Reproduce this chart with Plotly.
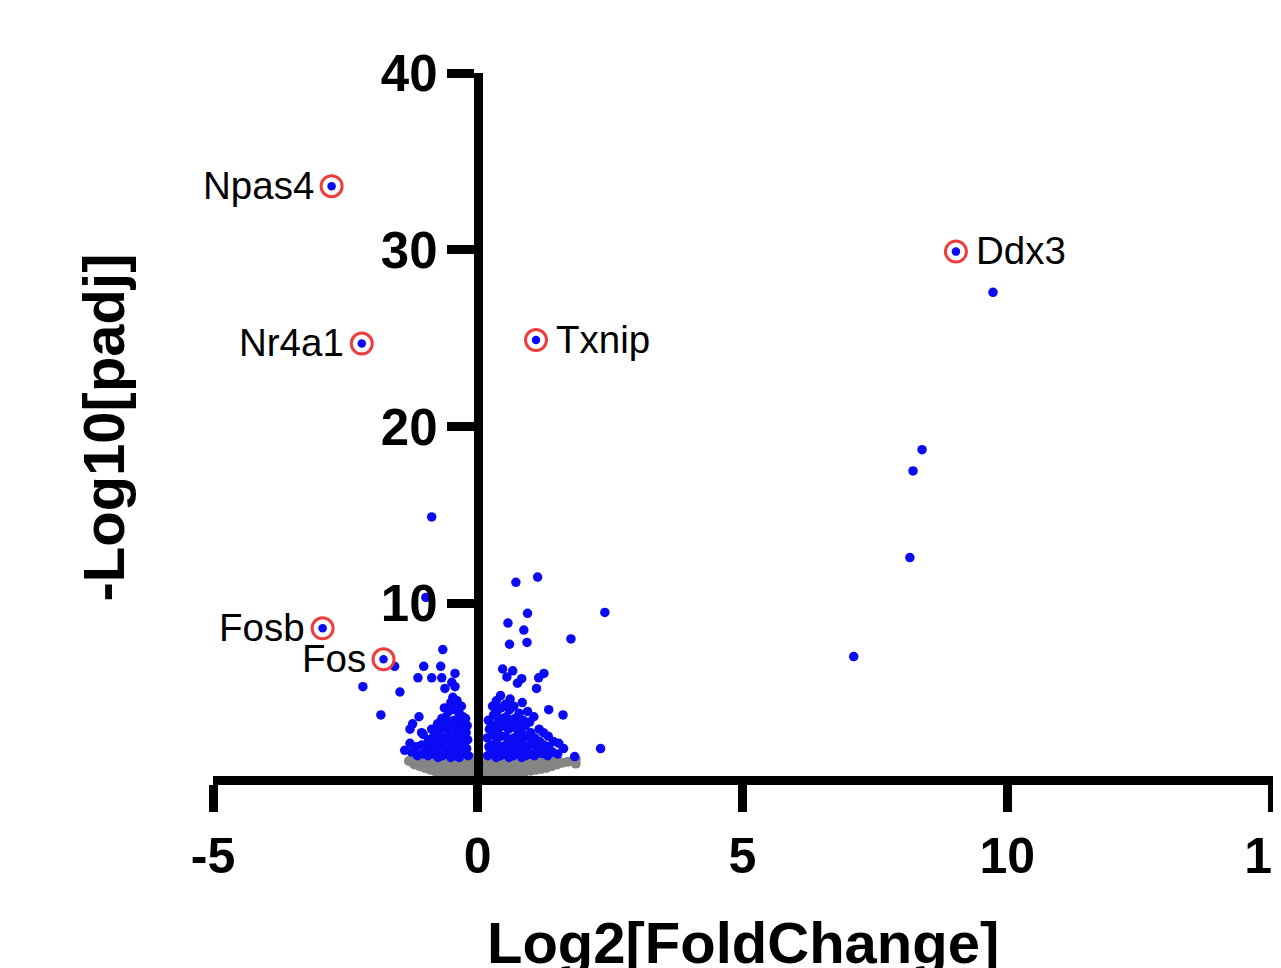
import plotly.graph_objects as go

# ---------------- data ----------------
genes = ["Npas4", "Nr4a1", "Txnip", "Ddx3", "Fosb", "Fos"]
gene_x = [-2.76, -2.19, 1.10, 9.03, -2.93, -1.78]
gene_y = [33.6, 24.7, 24.9, 29.9, 8.6, 6.85]
gene_side = ["left", "left", "right", "right", "left", "left"]

sparse_x = [9.73, 8.39, 8.22, 8.16, 7.10, -0.87, -0.98, 2.40, 2.32, 1.76, 1.13, 0.72,
            0.94, 0.57, 0.87, 0.60, 0.93, -0.66, -1.57, -2.17, -1.47, -1.83, -1.02,
            -0.70, -0.43, -1.13, -0.87, -0.68, -0.49, -0.43, -0.62, 0.47, 0.66, 0.55,
            0.83, 0.75, 1.25, 1.15, 1.11, 1.34, 1.61, 1.83, -1.11, -1.23, -1.28, -1.06,
            -1.28, -1.38]
sparse_y = [27.6, 18.7, 17.5, 12.6, 7.0, 14.9, 10.35, 9.5, 1.8, 8.0, 11.5, 11.2,
            9.45, 8.9, 8.5, 7.7, 7.8, 7.4, 6.45, 5.3, 5.0, 3.7, 6.45,
            6.45, 6.05, 5.8, 5.8, 5.8, 5.55, 5.3, 5.2, 6.3, 6.2, 5.85,
            5.75, 5.5, 6.05, 5.8, 5.2, 4.0, 3.7, 1.35, 3.6, 3.2, 2.9, 2.7,
            2.1, 1.7]

blue_left_x = [-0.18, -0.21, -0.19, -0.22, -0.20, -0.23,
               -0.27, -0.29, -0.26, -0.30, -0.28, -0.31,
               -0.35, -0.37, -0.34, -0.38, -0.36, -0.35, -0.39,
               -0.43, -0.45, -0.42, -0.46, -0.44, -0.43, -0.47,
               -0.51, -0.53, -0.50, -0.54, -0.52, -0.55, -0.51,
               -0.59, -0.61, -0.58, -0.62, -0.60, -0.63,
               -0.67, -0.69, -0.66, -0.70, -0.68,
               -0.75, -0.77, -0.74, -0.78, -0.76,
               -0.84, -0.86, -0.83, -0.87,
               -0.94, -0.96, -0.93,
               -1.04, -1.06, -1.03,
               -1.14, -1.16,
               -1.25]
blue_left_y = [1.4, 1.8, 2.3, 2.7, 3.1, 3.5,
               1.5, 2.0, 2.5, 3.0, 3.6, 4.2,
               1.3, 1.7, 2.2, 2.6, 3.2, 3.8, 4.5,
               1.4, 1.9, 2.4, 2.9, 3.4, 4.0, 4.7,
               1.3, 1.8, 2.3, 2.8, 3.3, 3.9, 4.4,
               1.5, 2.0, 2.5, 3.1, 3.6, 4.1,
               1.4, 1.9, 2.4, 2.9, 3.5,
               1.3, 1.8, 2.2, 2.7, 3.2,
               1.5, 2.0, 2.5, 2.9,
               1.4, 1.8, 2.3,
               1.5, 2.0, 2.6,
               1.4, 1.9,
               1.6]

blue_right_x = [0.19, 0.21, 0.18, 0.22, 0.20,
                0.27, 0.29, 0.28, 0.26, 0.30, 0.28,
                0.35, 0.37, 0.36, 0.34, 0.38, 0.36, 0.35,
                0.43, 0.45, 0.44, 0.42, 0.46, 0.44, 0.43,
                0.51, 0.53, 0.52, 0.50, 0.54, 0.52,
                0.59, 0.61, 0.60, 0.58, 0.62, 0.60, 0.61,
                0.67, 0.69, 0.68, 0.66, 0.70, 0.68,
                0.75, 0.77, 0.76, 0.74, 0.78,
                0.83, 0.85, 0.84, 0.82, 0.86, 0.84,
                0.91, 0.93, 0.92, 0.90, 0.94,
                0.99, 1.01, 1.00, 0.98,
                1.07, 1.09, 1.08, 1.06,
                1.15, 1.17, 1.16,
                1.23, 1.25, 1.24,
                1.32, 1.34, 1.33,
                1.41, 1.43,
                1.51, 1.53,
                1.62]
blue_right_y = [1.4, 1.9, 2.4, 2.9, 3.4,
                1.5, 2.0, 2.6, 3.1, 3.7, 4.2,
                1.3, 1.8, 2.3, 2.8, 3.3, 3.9, 4.5,
                1.4, 1.9, 2.5, 3.0, 3.5, 4.1, 4.8,
                1.5, 2.0, 2.5, 3.1, 3.6, 4.3,
                1.3, 1.8, 2.3, 2.9, 3.4, 4.0, 4.6,
                1.4, 1.9, 2.4, 3.0, 3.5, 4.2,
                1.5, 2.0, 2.6, 3.2, 3.8,
                1.3, 1.8, 2.3, 2.8, 3.4, 4.4,
                1.4, 1.9, 2.5, 3.1, 3.9,
                1.5, 2.1, 2.7, 3.3,
                1.4, 1.9, 2.4, 3.6,
                1.6, 2.2, 2.9,
                1.5, 2.0, 2.7,
                1.4, 1.9, 2.5,
                1.6, 2.2,
                1.5, 2.1,
                1.8]

gray_x = [-1.3,
          -1.2, -1.2,
          -1.1, -1.1,
          -1.0, -1.0, -1.0,
          -0.9, -0.9, -0.9,
          -0.8, -0.8, -0.8,
          -0.7, -0.7, -0.7, -0.7,
          -0.6, -0.6, -0.6, -0.6,
          -0.5, -0.5, -0.5, -0.5,
          -0.4, -0.4, -0.4, -0.4,
          -0.3, -0.3, -0.3, -0.3, -0.3,
          -0.2, -0.2, -0.2, -0.2, -0.2,
          -0.1, -0.1, -0.1, -0.1, -0.1,
          0.0, 0.0, 0.0, 0.0, 0.0,
          0.1, 0.1, 0.1, 0.1, 0.1,
          0.2, 0.2, 0.2, 0.2,
          0.3, 0.3, 0.3, 0.3,
          0.4, 0.4, 0.4, 0.4,
          0.5, 0.5, 0.5, 0.5,
          0.6, 0.6, 0.6, 0.6,
          0.7, 0.7, 0.7,
          0.8, 0.8, 0.8,
          0.9, 0.9, 0.9,
          1.0, 1.0, 1.0,
          1.1, 1.1, 1.1,
          1.2, 1.2,
          1.3, 1.3,
          1.4, 1.4,
          1.5, 1.5,
          1.6,
          1.7,
          1.85, 1.85]
gray_y = [1.1,
          0.9, 1.2,
          0.8, 1.1,
          0.7, 1.0, 1.25,
          0.6, 0.9, 1.2,
          0.5, 0.8, 1.1,
          0.4, 0.7, 1.0, 1.25,
          0.35, 0.65, 0.95, 1.2,
          0.3, 0.6, 0.9, 1.15,
          0.25, 0.5, 0.8, 1.1,
          0.2, 0.45, 0.75, 1.05, 1.3,
          0.15, 0.4, 0.7, 1.0, 1.3,
          0.1, 0.35, 0.65, 0.95, 1.25,
          0.05, 0.3, 0.6, 0.9, 1.2,
          0.1, 0.35, 0.65, 0.95, 1.25,
          0.15, 0.4, 0.7, 1.0,
          0.2, 0.45, 0.75, 1.05,
          0.25, 0.5, 0.8, 1.1,
          0.3, 0.6, 0.9, 1.15,
          0.35, 0.65, 0.95, 1.2,
          0.4, 0.7, 1.0,
          0.45, 0.75, 1.05,
          0.5, 0.8, 1.1,
          0.55, 0.85, 1.15,
          0.6, 0.9, 1.2,
          0.65, 0.95,
          0.7, 1.0,
          0.8, 1.1,
          0.9, 1.2,
          1.0,
          1.05,
          0.95, 1.2]

x_ticks = [-5, 0, 5, 10, 15]
y_ticks = [10, 20, 30, 40]

# ---------------- figure ----------------
BLUE = "#0a0af5"
GRAY = "#858585"
RED = "#f03c3c"
FONT = "Liberation Sans, Arial, sans-serif"

fig = go.Figure()
fig.add_trace(go.Scatter(x=gray_x, y=gray_y, mode="markers", cliponaxis=False,
                         marker=dict(color=GRAY, size=10, line=dict(width=0))))
fig.add_trace(go.Scatter(x=blue_left_x + blue_right_x + sparse_x,
                         y=blue_left_y + blue_right_y + sparse_y,
                         mode="markers", cliponaxis=False,
                         marker=dict(color=BLUE, size=9.5, line=dict(width=0))))
fig.add_trace(go.Scatter(x=gene_x, y=gene_y, mode="markers", cliponaxis=False,
                         marker=dict(color="white", size=21, line=dict(color=RED, width=3))))
fig.add_trace(go.Scatter(x=gene_x, y=gene_y, mode="markers", cliponaxis=False,
                         marker=dict(color=BLUE, size=8.5, line=dict(width=0))))

for g, gx, gy, side in zip(genes, gene_x, gene_y, gene_side):
    fig.add_annotation(x=gx, y=gy, text=g, showarrow=False,
                       xanchor="right" if side == "left" else "left",
                       xshift=-16 if side == "left" else 18, yshift=1,
                       font=dict(family=FONT, size=38.5, color="black"))

x_min, x_max = -5, 15.32
ypos = (0 - x_min) / (x_max - x_min)

fig.update_layout(
    width=1281, height=968,
    margin=dict(l=205, r=0, t=65, b=200),
    paper_bgcolor="white", plot_bgcolor="white",
    showlegend=False,
    xaxis=dict(range=[x_min, x_max], tickvals=x_ticks, ticktext=[str(v) for v in x_ticks],
               showgrid=False, zeroline=False, showline=True, linecolor="black",
               linewidth=9, ticks="outside", ticklen=27, tickwidth=9, tickcolor="black",
               ticklabelstandoff=1, ticklabeloverflow="allow", automargin=False,
               tickfont=dict(family=FONT, size=50, color="black", weight="bold")),
    yaxis=dict(range=[0.25, 40], tickvals=y_ticks, anchor="free", position=ypos,
               showgrid=False, zeroline=False, showline=True, linecolor="black",
               linewidth=9, ticks="outside", ticklen=27, tickwidth=9, tickcolor="black",
               ticklabelstandoff=-1, automargin=False,
               tickfont=dict(family=FONT, size=51, color="black", weight="bold")),
)

fig.add_annotation(text="Log2[FoldChange]", xref="x", yref="paper", x=5, y=0,
                   xanchor="center", yanchor="top", yshift=-132, showarrow=False,
                   font=dict(family=FONT, size=58, color="black", weight="bold"))
fig.add_annotation(text="-Log10[padj]", xref="paper", yref="paper", x=0, y=0.5,
                   xanchor="center", yanchor="middle", xshift=-110, yshift=-3,
                   textangle=-90, showarrow=False,
                   font=dict(family=FONT, size=58, color="black", weight="bold"))

fig.write_html("out.html")
